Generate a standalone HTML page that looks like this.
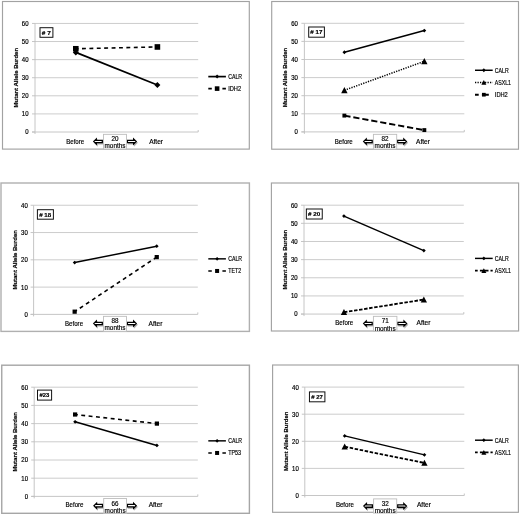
<!DOCTYPE html>
<html><head><meta charset="utf-8"><title>Mutant Allele Burden</title>
<style>
html,body{margin:0;padding:0;background:#fff;overflow:hidden;}
svg{display:block;font-family:"Liberation Sans", sans-serif;will-change:transform;}
text{fill:#000;stroke:#000;stroke-width:0.18px;}
</style></head>
<body>
<svg width="520" height="516" viewBox="0 0 520 516">
<defs><filter id="blur" x="-30%" y="-30%" width="160%" height="160%"><feGaussianBlur stdDeviation="0.7"/></filter></defs>
<rect x="0" y="0" width="520" height="516" fill="#fff"/>
<rect x="2.5" y="1.5" width="246.80" height="147.60" fill="#fff" stroke="#a2a2a2" stroke-width="1.15"/>
<line x1="35.0" y1="113.91" x2="198.2" y2="113.91" stroke="#c6c6c6" stroke-width="0.9"/>
<line x1="35.0" y1="95.81" x2="198.2" y2="95.81" stroke="#c6c6c6" stroke-width="0.9"/>
<line x1="35.0" y1="77.72" x2="198.2" y2="77.72" stroke="#c6c6c6" stroke-width="0.9"/>
<line x1="35.0" y1="59.63" x2="198.2" y2="59.63" stroke="#c6c6c6" stroke-width="0.9"/>
<line x1="35.0" y1="41.53" x2="198.2" y2="41.53" stroke="#c6c6c6" stroke-width="0.9"/>
<line x1="35.0" y1="23.44" x2="198.2" y2="23.44" stroke="#c6c6c6" stroke-width="0.9"/>
<line x1="35.0" y1="23.44" x2="35.0" y2="134.00" stroke="#c0c0c0" stroke-width="0.9"/>
<line x1="32.0" y1="132.00" x2="198.2" y2="132.00" stroke="#c0c0c0" stroke-width="0.9"/>
<line x1="198.2" y1="130.00" x2="198.2" y2="132.00" stroke="#c0c0c0" stroke-width="0.9"/>
<line x1="32.0" y1="132.00" x2="35.0" y2="132.00" stroke="#c0c0c0" stroke-width="0.9"/>
<text x="28.50" y="134.40" font-size="6.55" text-anchor="end" font-weight="normal" textLength="3.35" lengthAdjust="spacingAndGlyphs">0</text>
<line x1="32.0" y1="113.91" x2="35.0" y2="113.91" stroke="#c0c0c0" stroke-width="0.9"/>
<text x="28.50" y="116.31" font-size="6.55" text-anchor="end" font-weight="normal" textLength="6.7" lengthAdjust="spacingAndGlyphs">10</text>
<line x1="32.0" y1="95.81" x2="35.0" y2="95.81" stroke="#c0c0c0" stroke-width="0.9"/>
<text x="28.50" y="98.21" font-size="6.55" text-anchor="end" font-weight="normal" textLength="6.7" lengthAdjust="spacingAndGlyphs">20</text>
<line x1="32.0" y1="77.72" x2="35.0" y2="77.72" stroke="#c0c0c0" stroke-width="0.9"/>
<text x="28.50" y="80.12" font-size="6.55" text-anchor="end" font-weight="normal" textLength="6.7" lengthAdjust="spacingAndGlyphs">30</text>
<line x1="32.0" y1="59.63" x2="35.0" y2="59.63" stroke="#c0c0c0" stroke-width="0.9"/>
<text x="28.50" y="62.03" font-size="6.55" text-anchor="end" font-weight="normal" textLength="6.7" lengthAdjust="spacingAndGlyphs">40</text>
<line x1="32.0" y1="41.53" x2="35.0" y2="41.53" stroke="#c0c0c0" stroke-width="0.9"/>
<text x="28.50" y="43.93" font-size="6.55" text-anchor="end" font-weight="normal" textLength="6.7" lengthAdjust="spacingAndGlyphs">50</text>
<line x1="32.0" y1="23.44" x2="35.0" y2="23.44" stroke="#c0c0c0" stroke-width="0.9"/>
<text x="28.50" y="25.84" font-size="6.55" text-anchor="end" font-weight="normal" textLength="6.7" lengthAdjust="spacingAndGlyphs">60</text>
<text transform="translate(17.90,77.72) rotate(-90)" font-size="6.1" font-weight="bold" stroke="none" text-anchor="middle" textLength="59.5" lengthAdjust="spacingAndGlyphs">Mutant Allele Burden</text>
<rect x="40.0" y="27.7" width="12.90" height="9.60" fill="#fff" stroke="#111" stroke-width="1"/>
<text x="46.25" y="34.75" font-size="6.2" text-anchor="middle" font-weight="bold" textLength="9" lengthAdjust="spacingAndGlyphs"># 7</text>
<line x1="75.80" y1="48.77" x2="157.40" y2="46.96" stroke="#000" stroke-width="1.6" stroke-dasharray="3.9 3.5" stroke-dashoffset="1.2"/>
<rect x="73.00" y="45.97" width="5.60" height="5.60" fill="#000"/>
<rect x="154.60" y="44.16" width="5.60" height="5.60" fill="#000"/>
<line x1="75.80" y1="52.39" x2="157.40" y2="84.96" stroke="#000" stroke-width="1.7"/>
<path d="M72.80,52.39 L75.80,49.39 L78.80,52.39 L75.80,55.39 Z" fill="#000"/>
<path d="M154.40,84.96 L157.40,81.96 L160.40,84.96 L157.40,87.96 Z" fill="#000"/>
<line x1="208.3" y1="76.6" x2="225.9" y2="76.6" stroke="#000" stroke-width="1.7"/>
<path d="M215.10,76.60 L217.10,74.60 L219.10,76.60 L217.10,78.60 Z" fill="#000"/>
<text x="228.20" y="78.95" font-size="6.7" text-anchor="start" font-weight="normal" textLength="13.9" lengthAdjust="spacingAndGlyphs">CALR</text>
<line x1="208.3" y1="88.6" x2="225.9" y2="88.6" stroke="#000" stroke-width="1.6" stroke-dasharray="3.5 10.6 3.5 100" stroke-dashoffset="0"/>
<rect x="214.80" y="86.30" width="4.60" height="4.60" fill="#000"/>
<text x="228.20" y="90.95" font-size="6.7" text-anchor="start" font-weight="normal" textLength="12.9" lengthAdjust="spacingAndGlyphs">IDH2</text>
<text x="75.20" y="143.60" font-size="6.7" text-anchor="middle" font-weight="normal" textLength="18" lengthAdjust="spacingAndGlyphs">Before</text>
<text x="156.10" y="143.60" font-size="6.7" text-anchor="middle" font-weight="normal" textLength="13.9" lengthAdjust="spacingAndGlyphs">After</text>
<path d="M94.70,142.80 L97.20,140.35 L97.20,141.60 L103.20,141.60 L103.20,144.00 L97.20,144.00 L97.20,145.25 Z" fill="#000" stroke="#000" stroke-width="1.2" opacity="0.30" filter="url(#blur)"/><path d="M93.80,141.50 L96.30,139.05 L96.30,140.30 L102.30,140.30 L102.30,142.70 L96.30,142.70 L96.30,143.95 Z" fill="#fff" stroke="#000" stroke-width="1.3" stroke-linejoin="miter"/>
<path d="M137.05,142.80 L134.55,140.35 L134.55,141.60 L128.30,141.60 L128.30,144.00 L134.55,144.00 L134.55,145.25 Z" fill="#000" stroke="#000" stroke-width="1.2" opacity="0.30" filter="url(#blur)"/><path d="M136.15,141.50 L133.65,139.05 L133.65,140.30 L127.40,140.30 L127.40,142.70 L133.65,142.70 L133.65,143.95 Z" fill="#fff" stroke="#000" stroke-width="1.3" stroke-linejoin="miter"/>
<rect x="103.5" y="134.35" width="23.00" height="14.65" fill="#fff" stroke="#bdbdbd" stroke-width="0.9"/>
<text x="115.00" y="140.75" font-size="6.7" text-anchor="middle" font-weight="normal" textLength="7.0" lengthAdjust="spacingAndGlyphs">20</text>
<text x="115.00" y="148.05" font-size="6.7" text-anchor="middle" font-weight="normal" textLength="21" lengthAdjust="spacingAndGlyphs">months</text>
<rect x="271.7" y="1.5" width="246.80" height="147.70" fill="#fff" stroke="#a2a2a2" stroke-width="1.15"/>
<line x1="304.4" y1="113.80" x2="464.3" y2="113.80" stroke="#c6c6c6" stroke-width="0.9"/>
<line x1="304.4" y1="95.70" x2="464.3" y2="95.70" stroke="#c6c6c6" stroke-width="0.9"/>
<line x1="304.4" y1="77.60" x2="464.3" y2="77.60" stroke="#c6c6c6" stroke-width="0.9"/>
<line x1="304.4" y1="59.50" x2="464.3" y2="59.50" stroke="#c6c6c6" stroke-width="0.9"/>
<line x1="304.4" y1="41.40" x2="464.3" y2="41.40" stroke="#c6c6c6" stroke-width="0.9"/>
<line x1="304.4" y1="23.30" x2="464.3" y2="23.30" stroke="#c6c6c6" stroke-width="0.9"/>
<line x1="304.4" y1="23.30" x2="304.4" y2="133.90" stroke="#c0c0c0" stroke-width="0.9"/>
<line x1="301.4" y1="131.90" x2="464.3" y2="131.90" stroke="#c0c0c0" stroke-width="0.9"/>
<line x1="464.3" y1="129.90" x2="464.3" y2="131.90" stroke="#c0c0c0" stroke-width="0.9"/>
<line x1="301.4" y1="131.90" x2="304.4" y2="131.90" stroke="#c0c0c0" stroke-width="0.9"/>
<text x="297.90" y="134.30" font-size="6.55" text-anchor="end" font-weight="normal" textLength="3.35" lengthAdjust="spacingAndGlyphs">0</text>
<line x1="301.4" y1="113.80" x2="304.4" y2="113.80" stroke="#c0c0c0" stroke-width="0.9"/>
<text x="297.90" y="116.20" font-size="6.55" text-anchor="end" font-weight="normal" textLength="6.7" lengthAdjust="spacingAndGlyphs">10</text>
<line x1="301.4" y1="95.70" x2="304.4" y2="95.70" stroke="#c0c0c0" stroke-width="0.9"/>
<text x="297.90" y="98.10" font-size="6.55" text-anchor="end" font-weight="normal" textLength="6.7" lengthAdjust="spacingAndGlyphs">20</text>
<line x1="301.4" y1="77.60" x2="304.4" y2="77.60" stroke="#c0c0c0" stroke-width="0.9"/>
<text x="297.90" y="80.00" font-size="6.55" text-anchor="end" font-weight="normal" textLength="6.7" lengthAdjust="spacingAndGlyphs">30</text>
<line x1="301.4" y1="59.50" x2="304.4" y2="59.50" stroke="#c0c0c0" stroke-width="0.9"/>
<text x="297.90" y="61.90" font-size="6.55" text-anchor="end" font-weight="normal" textLength="6.7" lengthAdjust="spacingAndGlyphs">40</text>
<line x1="301.4" y1="41.40" x2="304.4" y2="41.40" stroke="#c0c0c0" stroke-width="0.9"/>
<text x="297.90" y="43.80" font-size="6.55" text-anchor="end" font-weight="normal" textLength="6.7" lengthAdjust="spacingAndGlyphs">50</text>
<line x1="301.4" y1="23.30" x2="304.4" y2="23.30" stroke="#c0c0c0" stroke-width="0.9"/>
<text x="297.90" y="25.70" font-size="6.55" text-anchor="end" font-weight="normal" textLength="6.7" lengthAdjust="spacingAndGlyphs">60</text>
<text transform="translate(287.30,77.60) rotate(-90)" font-size="6.1" font-weight="bold" stroke="none" text-anchor="middle" textLength="59.5" lengthAdjust="spacingAndGlyphs">Mutant Allele Burden</text>
<rect x="308.7" y="27.0" width="15.70" height="10.20" fill="#fff" stroke="#111" stroke-width="1"/>
<text x="316.35" y="34.35" font-size="6.2" text-anchor="middle" font-weight="bold" textLength="12" lengthAdjust="spacingAndGlyphs"># 17</text>
<line x1="344.38" y1="115.61" x2="424.32" y2="130.09" stroke="#000" stroke-width="1.9" stroke-dasharray="6.2 2.9" stroke-dashoffset="0"/>
<rect x="342.43" y="113.66" width="3.90" height="3.90" fill="#000"/>
<rect x="422.38" y="128.14" width="3.90" height="3.90" fill="#000"/>
<line x1="344.38" y1="90.27" x2="424.32" y2="61.31" stroke="#000" stroke-width="1.5" stroke-dasharray="1.25 1.25" stroke-dashoffset="0"/>
<path d="M341.18,93.15 L344.38,87.07 L347.57,93.15 Z" fill="#000"/>
<path d="M421.12,64.19 L424.32,58.11 L427.52,64.19 Z" fill="#000"/>
<line x1="344.38" y1="52.26" x2="424.32" y2="30.54" stroke="#000" stroke-width="1.45"/>
<path d="M342.48,52.26 L344.38,50.36 L346.27,52.26 L344.38,54.16 Z" fill="#000"/>
<path d="M422.43,30.54 L424.32,28.64 L426.22,30.54 L424.32,32.44 Z" fill="#000"/>
<line x1="475.0" y1="70.26" x2="492.7" y2="70.26" stroke="#000" stroke-width="1.45"/>
<path d="M481.95,70.26 L483.85,68.36 L485.75,70.26 L483.85,72.16 Z" fill="#000"/>
<text x="494.80" y="72.61" font-size="6.7" text-anchor="start" font-weight="normal" textLength="13.9" lengthAdjust="spacingAndGlyphs">CALR</text>
<line x1="475.0" y1="82.5" x2="492.7" y2="82.5" stroke="#000" stroke-width="1.5" stroke-dasharray="1.25 1.25" stroke-dashoffset="0"/>
<path d="M481.35,84.75 L483.85,80.00 L486.35,84.75 Z" fill="#000"/>
<text x="494.80" y="84.85" font-size="6.7" text-anchor="start" font-weight="normal" textLength="16.2" lengthAdjust="spacingAndGlyphs">ASXL1</text>
<line x1="475.0" y1="94.7" x2="492.7" y2="94.7" stroke="#000" stroke-width="1.9" stroke-dasharray="3.7 3.2 6.9 100" stroke-dashoffset="0"/>
<rect x="482.00" y="92.85" width="3.70" height="3.70" fill="#000"/>
<text x="494.80" y="97.05" font-size="6.7" text-anchor="start" font-weight="normal" textLength="13" lengthAdjust="spacingAndGlyphs">IDH2</text>
<text x="343.77" y="143.60" font-size="6.7" text-anchor="middle" font-weight="normal" textLength="18" lengthAdjust="spacingAndGlyphs">Before</text>
<text x="423.02" y="143.60" font-size="6.7" text-anchor="middle" font-weight="normal" textLength="13.9" lengthAdjust="spacingAndGlyphs">After</text>
<path d="M364.60,142.80 L367.10,140.35 L367.10,141.60 L373.10,141.60 L373.10,144.00 L367.10,144.00 L367.10,145.25 Z" fill="#000" stroke="#000" stroke-width="1.2" opacity="0.30" filter="url(#blur)"/><path d="M363.70,141.50 L366.20,139.05 L366.20,140.30 L372.20,140.30 L372.20,142.70 L366.20,142.70 L366.20,143.95 Z" fill="#fff" stroke="#000" stroke-width="1.3" stroke-linejoin="miter"/>
<path d="M407.25,142.80 L404.75,140.35 L404.75,141.60 L398.50,141.60 L398.50,144.00 L404.75,144.00 L404.75,145.25 Z" fill="#000" stroke="#000" stroke-width="1.2" opacity="0.30" filter="url(#blur)"/><path d="M406.35,141.50 L403.85,139.05 L403.85,140.30 L397.60,140.30 L397.60,142.70 L403.85,142.70 L403.85,143.95 Z" fill="#fff" stroke="#000" stroke-width="1.3" stroke-linejoin="miter"/>
<rect x="373.4" y="134.35" width="23.30" height="14.75" fill="#fff" stroke="#bdbdbd" stroke-width="0.9"/>
<text x="385.05" y="141.05" font-size="6.7" text-anchor="middle" font-weight="normal" textLength="7.0" lengthAdjust="spacingAndGlyphs">82</text>
<text x="385.05" y="148.35" font-size="6.7" text-anchor="middle" font-weight="normal" textLength="21" lengthAdjust="spacingAndGlyphs">months</text>
<rect x="1.0" y="183.0" width="248.40" height="148.40" fill="#fff" stroke="#b0b0b0" stroke-width="1.4"/>
<line x1="33.6" y1="287.11" x2="197.8" y2="287.11" stroke="#c6c6c6" stroke-width="0.9"/>
<line x1="33.6" y1="259.82" x2="197.8" y2="259.82" stroke="#c6c6c6" stroke-width="0.9"/>
<line x1="33.6" y1="232.54" x2="197.8" y2="232.54" stroke="#c6c6c6" stroke-width="0.9"/>
<line x1="33.6" y1="205.25" x2="197.8" y2="205.25" stroke="#c6c6c6" stroke-width="0.9"/>
<line x1="33.6" y1="205.25" x2="33.6" y2="316.40" stroke="#c0c0c0" stroke-width="0.9"/>
<line x1="30.6" y1="314.40" x2="197.8" y2="314.40" stroke="#c0c0c0" stroke-width="0.9"/>
<line x1="197.8" y1="312.40" x2="197.8" y2="314.40" stroke="#c0c0c0" stroke-width="0.9"/>
<line x1="30.6" y1="314.40" x2="33.6" y2="314.40" stroke="#c0c0c0" stroke-width="0.9"/>
<text x="27.80" y="316.80" font-size="6.55" text-anchor="end" font-weight="normal" textLength="3.35" lengthAdjust="spacingAndGlyphs">0</text>
<line x1="30.6" y1="287.11" x2="33.6" y2="287.11" stroke="#c0c0c0" stroke-width="0.9"/>
<text x="27.80" y="289.51" font-size="6.55" text-anchor="end" font-weight="normal" textLength="6.7" lengthAdjust="spacingAndGlyphs">10</text>
<line x1="30.6" y1="259.82" x2="33.6" y2="259.82" stroke="#c0c0c0" stroke-width="0.9"/>
<text x="27.80" y="262.22" font-size="6.55" text-anchor="end" font-weight="normal" textLength="6.7" lengthAdjust="spacingAndGlyphs">20</text>
<line x1="30.6" y1="232.54" x2="33.6" y2="232.54" stroke="#c0c0c0" stroke-width="0.9"/>
<text x="27.80" y="234.94" font-size="6.55" text-anchor="end" font-weight="normal" textLength="6.7" lengthAdjust="spacingAndGlyphs">30</text>
<line x1="30.6" y1="205.25" x2="33.6" y2="205.25" stroke="#c0c0c0" stroke-width="0.9"/>
<text x="27.80" y="207.65" font-size="6.55" text-anchor="end" font-weight="normal" textLength="6.7" lengthAdjust="spacingAndGlyphs">40</text>
<text transform="translate(16.50,259.82) rotate(-90)" font-size="6.1" font-weight="bold" stroke="none" text-anchor="middle" textLength="59.5" lengthAdjust="spacingAndGlyphs">Mutant Allele Burden</text>
<rect x="37.4" y="209.7" width="16.00" height="9.50" fill="#fff" stroke="#111" stroke-width="1"/>
<text x="45.20" y="216.70" font-size="6.2" text-anchor="middle" font-weight="bold" textLength="12" lengthAdjust="spacingAndGlyphs"># 18</text>
<line x1="74.65" y1="311.67" x2="156.75" y2="257.10" stroke="#000" stroke-width="1.6" stroke-dasharray="3.9 3.5" stroke-dashoffset="1.2"/>
<rect x="72.55" y="309.57" width="4.20" height="4.20" fill="#000"/>
<rect x="154.65" y="255.00" width="4.20" height="4.20" fill="#000"/>
<line x1="74.65" y1="262.55" x2="156.75" y2="246.18" stroke="#000" stroke-width="1.45"/>
<path d="M72.75,262.55 L74.65,260.65 L76.55,262.55 L74.65,264.45 Z" fill="#000"/>
<path d="M154.85,246.18 L156.75,244.28 L158.65,246.18 L156.75,248.08 Z" fill="#000"/>
<line x1="208.3" y1="258.85" x2="225.9" y2="258.85" stroke="#000" stroke-width="1.45"/>
<path d="M215.30,258.85 L217.10,257.05 L218.90,258.85 L217.10,260.65 Z" fill="#000"/>
<text x="228.20" y="261.20" font-size="6.7" text-anchor="start" font-weight="normal" textLength="13.9" lengthAdjust="spacingAndGlyphs">CALR</text>
<line x1="208.3" y1="270.96" x2="225.9" y2="270.96" stroke="#000" stroke-width="1.6" stroke-dasharray="3.5 10.6 3.5 100" stroke-dashoffset="0"/>
<rect x="215.10" y="268.96" width="4.00" height="4.00" fill="#000"/>
<text x="228.20" y="273.31" font-size="6.7" text-anchor="start" font-weight="normal" textLength="12.9" lengthAdjust="spacingAndGlyphs">TET2</text>
<text x="74.05" y="325.60" font-size="6.7" text-anchor="middle" font-weight="normal" textLength="18" lengthAdjust="spacingAndGlyphs">Before</text>
<text x="155.45" y="325.60" font-size="6.7" text-anchor="middle" font-weight="normal" textLength="13.9" lengthAdjust="spacingAndGlyphs">After</text>
<path d="M94.70,324.80 L97.20,322.35 L97.20,323.60 L103.20,323.60 L103.20,326.00 L97.20,326.00 L97.20,327.25 Z" fill="#000" stroke="#000" stroke-width="1.2" opacity="0.30" filter="url(#blur)"/><path d="M93.80,323.50 L96.30,321.05 L96.30,322.30 L102.30,322.30 L102.30,324.70 L96.30,324.70 L96.30,325.95 Z" fill="#fff" stroke="#000" stroke-width="1.3" stroke-linejoin="miter"/>
<path d="M137.05,324.80 L134.55,322.35 L134.55,323.60 L128.30,323.60 L128.30,326.00 L134.55,326.00 L134.55,327.25 Z" fill="#000" stroke="#000" stroke-width="1.2" opacity="0.30" filter="url(#blur)"/><path d="M136.15,323.50 L133.65,321.05 L133.65,322.30 L127.40,322.30 L127.40,324.70 L133.65,324.70 L133.65,325.95 Z" fill="#fff" stroke="#000" stroke-width="1.3" stroke-linejoin="miter"/>
<rect x="103.5" y="316.35" width="23.00" height="14.95" fill="#fff" stroke="#bdbdbd" stroke-width="0.9"/>
<text x="115.00" y="322.95" font-size="6.7" text-anchor="middle" font-weight="normal" textLength="7.0" lengthAdjust="spacingAndGlyphs">88</text>
<text x="115.00" y="330.25" font-size="6.7" text-anchor="middle" font-weight="normal" textLength="21" lengthAdjust="spacingAndGlyphs">months</text>
<rect x="271.4" y="183.0" width="247.20" height="148.00" fill="#fff" stroke="#a2a2a2" stroke-width="1.15"/>
<line x1="304.0" y1="295.93" x2="463.8" y2="295.93" stroke="#c6c6c6" stroke-width="0.9"/>
<line x1="304.0" y1="277.78" x2="463.8" y2="277.78" stroke="#c6c6c6" stroke-width="0.9"/>
<line x1="304.0" y1="259.63" x2="463.8" y2="259.63" stroke="#c6c6c6" stroke-width="0.9"/>
<line x1="304.0" y1="241.49" x2="463.8" y2="241.49" stroke="#c6c6c6" stroke-width="0.9"/>
<line x1="304.0" y1="223.34" x2="463.8" y2="223.34" stroke="#c6c6c6" stroke-width="0.9"/>
<line x1="304.0" y1="205.20" x2="463.8" y2="205.20" stroke="#c6c6c6" stroke-width="0.9"/>
<line x1="304.0" y1="205.20" x2="304.0" y2="316.07" stroke="#c0c0c0" stroke-width="0.9"/>
<line x1="301.0" y1="314.07" x2="463.8" y2="314.07" stroke="#c0c0c0" stroke-width="0.9"/>
<line x1="463.8" y1="312.07" x2="463.8" y2="314.07" stroke="#c0c0c0" stroke-width="0.9"/>
<line x1="301.0" y1="314.07" x2="304.0" y2="314.07" stroke="#c0c0c0" stroke-width="0.9"/>
<text x="297.70" y="316.47" font-size="6.55" text-anchor="end" font-weight="normal" textLength="3.35" lengthAdjust="spacingAndGlyphs">0</text>
<line x1="301.0" y1="295.93" x2="304.0" y2="295.93" stroke="#c0c0c0" stroke-width="0.9"/>
<text x="297.70" y="298.32" font-size="6.55" text-anchor="end" font-weight="normal" textLength="6.7" lengthAdjust="spacingAndGlyphs">10</text>
<line x1="301.0" y1="277.78" x2="304.0" y2="277.78" stroke="#c0c0c0" stroke-width="0.9"/>
<text x="297.70" y="280.18" font-size="6.55" text-anchor="end" font-weight="normal" textLength="6.7" lengthAdjust="spacingAndGlyphs">20</text>
<line x1="301.0" y1="259.63" x2="304.0" y2="259.63" stroke="#c0c0c0" stroke-width="0.9"/>
<text x="297.70" y="262.03" font-size="6.55" text-anchor="end" font-weight="normal" textLength="6.7" lengthAdjust="spacingAndGlyphs">30</text>
<line x1="301.0" y1="241.49" x2="304.0" y2="241.49" stroke="#c0c0c0" stroke-width="0.9"/>
<text x="297.70" y="243.89" font-size="6.55" text-anchor="end" font-weight="normal" textLength="6.7" lengthAdjust="spacingAndGlyphs">40</text>
<line x1="301.0" y1="223.34" x2="304.0" y2="223.34" stroke="#c0c0c0" stroke-width="0.9"/>
<text x="297.70" y="225.75" font-size="6.55" text-anchor="end" font-weight="normal" textLength="6.7" lengthAdjust="spacingAndGlyphs">50</text>
<line x1="301.0" y1="205.20" x2="304.0" y2="205.20" stroke="#c0c0c0" stroke-width="0.9"/>
<text x="297.70" y="207.60" font-size="6.55" text-anchor="end" font-weight="normal" textLength="6.7" lengthAdjust="spacingAndGlyphs">60</text>
<text transform="translate(286.90,259.63) rotate(-90)" font-size="6.1" font-weight="bold" stroke="none" text-anchor="middle" textLength="59.5" lengthAdjust="spacingAndGlyphs">Mutant Allele Burden</text>
<rect x="306.35" y="209.0" width="15.90" height="10.00" fill="#fff" stroke="#111" stroke-width="1"/>
<text x="314.10" y="216.25" font-size="6.2" text-anchor="middle" font-weight="bold" textLength="12.2" lengthAdjust="spacingAndGlyphs"># 20</text>
<line x1="343.95" y1="312.26" x2="423.85" y2="299.55" stroke="#000" stroke-width="1.8" stroke-dasharray="3.5 1.6" stroke-dashoffset="0"/>
<path d="M340.80,315.09 L343.95,309.11 L347.10,315.09 Z" fill="#000"/>
<path d="M420.70,302.39 L423.85,296.40 L427.00,302.39 Z" fill="#000"/>
<line x1="343.95" y1="216.09" x2="423.85" y2="250.56" stroke="#000" stroke-width="1.45"/>
<path d="M342.05,216.09 L343.95,214.19 L345.85,216.09 L343.95,217.99 Z" fill="#000"/>
<path d="M421.95,250.56 L423.85,248.66 L425.75,250.56 L423.85,252.46 Z" fill="#000"/>
<line x1="475.0" y1="258.4" x2="492.7" y2="258.4" stroke="#000" stroke-width="1.45"/>
<path d="M481.95,258.40 L483.85,256.50 L485.75,258.40 L483.85,260.30 Z" fill="#000"/>
<text x="494.80" y="260.75" font-size="6.7" text-anchor="start" font-weight="normal" textLength="13.9" lengthAdjust="spacingAndGlyphs">CALR</text>
<line x1="475.0" y1="270.7" x2="492.7" y2="270.7" stroke="#000" stroke-width="1.7" stroke-dasharray="2.7 2.2 8.6 2 3" stroke-dashoffset="0"/>
<path d="M481.35,272.95 L483.85,268.20 L486.35,272.95 Z" fill="#000"/>
<text x="494.80" y="273.05" font-size="6.7" text-anchor="start" font-weight="normal" textLength="16.2" lengthAdjust="spacingAndGlyphs">ASXL1</text>
<text x="344.25" y="324.90" font-size="6.7" text-anchor="middle" font-weight="normal" textLength="18" lengthAdjust="spacingAndGlyphs">Before</text>
<text x="423.45" y="324.90" font-size="6.7" text-anchor="middle" font-weight="normal" textLength="13.9" lengthAdjust="spacingAndGlyphs">After</text>
<path d="M364.60,324.80 L367.10,322.35 L367.10,323.60 L373.10,323.60 L373.10,326.00 L367.10,326.00 L367.10,327.25 Z" fill="#000" stroke="#000" stroke-width="1.2" opacity="0.30" filter="url(#blur)"/><path d="M363.70,323.50 L366.20,321.05 L366.20,322.30 L372.20,322.30 L372.20,324.70 L366.20,324.70 L366.20,325.95 Z" fill="#fff" stroke="#000" stroke-width="1.3" stroke-linejoin="miter"/>
<path d="M407.45,324.80 L404.95,322.35 L404.95,323.60 L398.70,323.60 L398.70,326.00 L404.95,326.00 L404.95,327.25 Z" fill="#000" stroke="#000" stroke-width="1.2" opacity="0.30" filter="url(#blur)"/><path d="M406.55,323.50 L404.05,321.05 L404.05,322.30 L397.80,322.30 L397.80,324.70 L404.05,324.70 L404.05,325.95 Z" fill="#fff" stroke="#000" stroke-width="1.3" stroke-linejoin="miter"/>
<rect x="373.4" y="316.35" width="23.50" height="14.65" fill="#fff" stroke="#bdbdbd" stroke-width="0.9"/>
<text x="385.15" y="323.45" font-size="6.7" text-anchor="middle" font-weight="normal" textLength="7.0" lengthAdjust="spacingAndGlyphs">71</text>
<text x="385.15" y="330.75" font-size="6.7" text-anchor="middle" font-weight="normal" textLength="21" lengthAdjust="spacingAndGlyphs">months</text>
<rect x="1.75" y="365.2" width="247.65" height="148.10" fill="#fff" stroke="#a6a6a6" stroke-width="1.4"/>
<line x1="34.2" y1="478.20" x2="197.8" y2="478.20" stroke="#c6c6c6" stroke-width="0.9"/>
<line x1="34.2" y1="460.00" x2="197.8" y2="460.00" stroke="#c6c6c6" stroke-width="0.9"/>
<line x1="34.2" y1="441.80" x2="197.8" y2="441.80" stroke="#c6c6c6" stroke-width="0.9"/>
<line x1="34.2" y1="423.60" x2="197.8" y2="423.60" stroke="#c6c6c6" stroke-width="0.9"/>
<line x1="34.2" y1="405.40" x2="197.8" y2="405.40" stroke="#c6c6c6" stroke-width="0.9"/>
<line x1="34.2" y1="387.20" x2="197.8" y2="387.20" stroke="#c6c6c6" stroke-width="0.9"/>
<line x1="34.2" y1="387.20" x2="34.2" y2="498.40" stroke="#c0c0c0" stroke-width="0.9"/>
<line x1="31.200000000000003" y1="496.40" x2="197.8" y2="496.40" stroke="#c0c0c0" stroke-width="0.9"/>
<line x1="197.8" y1="494.40" x2="197.8" y2="496.40" stroke="#c0c0c0" stroke-width="0.9"/>
<line x1="31.200000000000003" y1="496.40" x2="34.2" y2="496.40" stroke="#c0c0c0" stroke-width="0.9"/>
<text x="28.00" y="498.80" font-size="6.55" text-anchor="end" font-weight="normal" textLength="3.35" lengthAdjust="spacingAndGlyphs">0</text>
<line x1="31.200000000000003" y1="478.20" x2="34.2" y2="478.20" stroke="#c0c0c0" stroke-width="0.9"/>
<text x="28.00" y="480.60" font-size="6.55" text-anchor="end" font-weight="normal" textLength="6.7" lengthAdjust="spacingAndGlyphs">10</text>
<line x1="31.200000000000003" y1="460.00" x2="34.2" y2="460.00" stroke="#c0c0c0" stroke-width="0.9"/>
<text x="28.00" y="462.40" font-size="6.55" text-anchor="end" font-weight="normal" textLength="6.7" lengthAdjust="spacingAndGlyphs">20</text>
<line x1="31.200000000000003" y1="441.80" x2="34.2" y2="441.80" stroke="#c0c0c0" stroke-width="0.9"/>
<text x="28.00" y="444.20" font-size="6.55" text-anchor="end" font-weight="normal" textLength="6.7" lengthAdjust="spacingAndGlyphs">30</text>
<line x1="31.200000000000003" y1="423.60" x2="34.2" y2="423.60" stroke="#c0c0c0" stroke-width="0.9"/>
<text x="28.00" y="426.00" font-size="6.55" text-anchor="end" font-weight="normal" textLength="6.7" lengthAdjust="spacingAndGlyphs">40</text>
<line x1="31.200000000000003" y1="405.40" x2="34.2" y2="405.40" stroke="#c0c0c0" stroke-width="0.9"/>
<text x="28.00" y="407.80" font-size="6.55" text-anchor="end" font-weight="normal" textLength="6.7" lengthAdjust="spacingAndGlyphs">50</text>
<line x1="31.200000000000003" y1="387.20" x2="34.2" y2="387.20" stroke="#c0c0c0" stroke-width="0.9"/>
<text x="28.00" y="389.60" font-size="6.55" text-anchor="end" font-weight="normal" textLength="6.7" lengthAdjust="spacingAndGlyphs">60</text>
<text transform="translate(17.10,441.80) rotate(-90)" font-size="6.1" font-weight="bold" stroke="none" text-anchor="middle" textLength="59.5" lengthAdjust="spacingAndGlyphs">Mutant Allele Burden</text>
<rect x="37.5" y="390.1" width="14.10" height="10.00" fill="#fff" stroke="#111" stroke-width="1"/>
<text x="44.35" y="397.35" font-size="6.2" text-anchor="middle" font-weight="bold" textLength="9.8" lengthAdjust="spacingAndGlyphs">#23</text>
<line x1="75.10" y1="414.50" x2="156.90" y2="423.60" stroke="#000" stroke-width="1.6" stroke-dasharray="3.9 3.5" stroke-dashoffset="1.2"/>
<rect x="73.00" y="412.40" width="4.20" height="4.20" fill="#000"/>
<rect x="154.80" y="421.50" width="4.20" height="4.20" fill="#000"/>
<line x1="75.10" y1="421.78" x2="156.90" y2="445.44" stroke="#000" stroke-width="1.45"/>
<path d="M73.20,421.78 L75.10,419.88 L77.00,421.78 L75.10,423.68 Z" fill="#000"/>
<path d="M155.00,445.44 L156.90,443.54 L158.80,445.44 L156.90,447.34 Z" fill="#000"/>
<line x1="208.3" y1="440.85" x2="225.9" y2="440.85" stroke="#000" stroke-width="1.45"/>
<path d="M215.30,440.85 L217.10,439.05 L218.90,440.85 L217.10,442.65 Z" fill="#000"/>
<text x="228.20" y="443.20" font-size="6.7" text-anchor="start" font-weight="normal" textLength="13.9" lengthAdjust="spacingAndGlyphs">CALR</text>
<line x1="208.3" y1="452.96" x2="225.9" y2="452.96" stroke="#000" stroke-width="1.6" stroke-dasharray="3.5 10.6 3.5 100" stroke-dashoffset="0"/>
<rect x="215.10" y="450.96" width="4.00" height="4.00" fill="#000"/>
<text x="228.20" y="455.31" font-size="6.7" text-anchor="start" font-weight="normal" textLength="12.9" lengthAdjust="spacingAndGlyphs">TP53</text>
<text x="74.50" y="507.20" font-size="6.7" text-anchor="middle" font-weight="normal" textLength="18" lengthAdjust="spacingAndGlyphs">Before</text>
<text x="155.60" y="507.20" font-size="6.7" text-anchor="middle" font-weight="normal" textLength="13.9" lengthAdjust="spacingAndGlyphs">After</text>
<path d="M94.90,506.95 L97.40,504.50 L97.40,505.75 L103.40,505.75 L103.40,508.15 L97.40,508.15 L97.40,509.40 Z" fill="#000" stroke="#000" stroke-width="1.2" opacity="0.30" filter="url(#blur)"/><path d="M94.00,505.65 L96.50,503.20 L96.50,504.45 L102.50,504.45 L102.50,506.85 L96.50,506.85 L96.50,508.10 Z" fill="#fff" stroke="#000" stroke-width="1.3" stroke-linejoin="miter"/>
<path d="M137.05,506.95 L134.55,504.50 L134.55,505.75 L128.30,505.75 L128.30,508.15 L134.55,508.15 L134.55,509.40 Z" fill="#000" stroke="#000" stroke-width="1.2" opacity="0.30" filter="url(#blur)"/><path d="M136.15,505.65 L133.65,503.20 L133.65,504.45 L127.40,504.45 L127.40,506.85 L133.65,506.85 L133.65,508.10 Z" fill="#fff" stroke="#000" stroke-width="1.3" stroke-linejoin="miter"/>
<rect x="103.7" y="498.5" width="22.80" height="14.90" fill="#fff" stroke="#bdbdbd" stroke-width="0.9"/>
<text x="115.10" y="505.60" font-size="6.7" text-anchor="middle" font-weight="normal" textLength="7.0" lengthAdjust="spacingAndGlyphs">66</text>
<text x="115.10" y="512.90" font-size="6.7" text-anchor="middle" font-weight="normal" textLength="21" lengthAdjust="spacingAndGlyphs">months</text>
<rect x="272.6" y="365.0" width="245.80" height="147.30" fill="#fff" stroke="#a2a2a2" stroke-width="1.15"/>
<line x1="304.8" y1="468.40" x2="464.3" y2="468.40" stroke="#c6c6c6" stroke-width="0.9"/>
<line x1="304.8" y1="441.30" x2="464.3" y2="441.30" stroke="#c6c6c6" stroke-width="0.9"/>
<line x1="304.8" y1="414.20" x2="464.3" y2="414.20" stroke="#c6c6c6" stroke-width="0.9"/>
<line x1="304.8" y1="387.10" x2="464.3" y2="387.10" stroke="#c6c6c6" stroke-width="0.9"/>
<line x1="304.8" y1="387.10" x2="304.8" y2="497.50" stroke="#c0c0c0" stroke-width="0.9"/>
<line x1="301.8" y1="495.50" x2="464.3" y2="495.50" stroke="#c0c0c0" stroke-width="0.9"/>
<line x1="464.3" y1="493.50" x2="464.3" y2="495.50" stroke="#c0c0c0" stroke-width="0.9"/>
<line x1="301.8" y1="495.50" x2="304.8" y2="495.50" stroke="#c0c0c0" stroke-width="0.9"/>
<text x="298.80" y="497.90" font-size="6.55" text-anchor="end" font-weight="normal" textLength="3.35" lengthAdjust="spacingAndGlyphs">0</text>
<line x1="301.8" y1="468.40" x2="304.8" y2="468.40" stroke="#c0c0c0" stroke-width="0.9"/>
<text x="298.80" y="470.80" font-size="6.55" text-anchor="end" font-weight="normal" textLength="6.7" lengthAdjust="spacingAndGlyphs">10</text>
<line x1="301.8" y1="441.30" x2="304.8" y2="441.30" stroke="#c0c0c0" stroke-width="0.9"/>
<text x="298.80" y="443.70" font-size="6.55" text-anchor="end" font-weight="normal" textLength="6.7" lengthAdjust="spacingAndGlyphs">20</text>
<line x1="301.8" y1="414.20" x2="304.8" y2="414.20" stroke="#c0c0c0" stroke-width="0.9"/>
<text x="298.80" y="416.60" font-size="6.55" text-anchor="end" font-weight="normal" textLength="6.7" lengthAdjust="spacingAndGlyphs">30</text>
<line x1="301.8" y1="387.10" x2="304.8" y2="387.10" stroke="#c0c0c0" stroke-width="0.9"/>
<text x="298.80" y="389.50" font-size="6.55" text-anchor="end" font-weight="normal" textLength="6.7" lengthAdjust="spacingAndGlyphs">40</text>
<text transform="translate(287.70,441.30) rotate(-90)" font-size="6.1" font-weight="bold" stroke="none" text-anchor="middle" textLength="59.5" lengthAdjust="spacingAndGlyphs">Mutant Allele Burden</text>
<rect x="309.45" y="391.9" width="15.45" height="9.90" fill="#fff" stroke="#111" stroke-width="1"/>
<text x="316.97" y="399.10" font-size="6.2" text-anchor="middle" font-weight="bold" textLength="11.6" lengthAdjust="spacingAndGlyphs"># 27</text>
<line x1="344.68" y1="446.72" x2="424.43" y2="462.98" stroke="#000" stroke-width="1.8" stroke-dasharray="3.5 1.6" stroke-dashoffset="0"/>
<path d="M341.53,449.56 L344.68,443.57 L347.82,449.56 Z" fill="#000"/>
<path d="M421.28,465.81 L424.43,459.83 L427.57,465.81 Z" fill="#000"/>
<line x1="344.68" y1="435.88" x2="424.43" y2="454.85" stroke="#000" stroke-width="1.45"/>
<path d="M342.78,435.88 L344.68,433.98 L346.57,435.88 L344.68,437.78 Z" fill="#000"/>
<path d="M422.53,454.85 L424.43,452.95 L426.32,454.85 L424.43,456.75 Z" fill="#000"/>
<line x1="475.0" y1="440.2" x2="492.7" y2="440.2" stroke="#000" stroke-width="1.45"/>
<path d="M481.95,440.20 L483.85,438.30 L485.75,440.20 L483.85,442.10 Z" fill="#000"/>
<text x="494.80" y="442.55" font-size="6.7" text-anchor="start" font-weight="normal" textLength="13.9" lengthAdjust="spacingAndGlyphs">CALR</text>
<line x1="475.0" y1="452.4" x2="492.7" y2="452.4" stroke="#000" stroke-width="1.7" stroke-dasharray="2.7 2.2 8.6 2 3" stroke-dashoffset="0"/>
<path d="M481.35,454.65 L483.85,449.90 L486.35,454.65 Z" fill="#000"/>
<text x="494.80" y="454.75" font-size="6.7" text-anchor="start" font-weight="normal" textLength="16.2" lengthAdjust="spacingAndGlyphs">ASXL1</text>
<text x="344.88" y="507.00" font-size="6.7" text-anchor="middle" font-weight="normal" textLength="18" lengthAdjust="spacingAndGlyphs">Before</text>
<text x="423.93" y="507.00" font-size="6.7" text-anchor="middle" font-weight="normal" textLength="13.9" lengthAdjust="spacingAndGlyphs">After</text>
<path d="M364.80,507.35 L367.30,504.90 L367.30,506.15 L373.30,506.15 L373.30,508.55 L367.30,508.55 L367.30,509.80 Z" fill="#000" stroke="#000" stroke-width="1.2" opacity="0.30" filter="url(#blur)"/><path d="M363.90,506.05 L366.40,503.60 L366.40,504.85 L372.40,504.85 L372.40,507.25 L366.40,507.25 L366.40,508.50 Z" fill="#fff" stroke="#000" stroke-width="1.3" stroke-linejoin="miter"/>
<path d="M407.25,507.35 L404.75,504.90 L404.75,506.15 L398.50,506.15 L398.50,508.55 L404.75,508.55 L404.75,509.80 Z" fill="#000" stroke="#000" stroke-width="1.2" opacity="0.30" filter="url(#blur)"/><path d="M406.35,506.05 L403.85,503.60 L403.85,504.85 L397.60,504.85 L397.60,507.25 L403.85,507.25 L403.85,508.50 Z" fill="#fff" stroke="#000" stroke-width="1.3" stroke-linejoin="miter"/>
<rect x="373.6" y="498.9" width="23.10" height="14.20" fill="#fff" stroke="#bdbdbd" stroke-width="0.9"/>
<text x="385.15" y="505.90" font-size="6.7" text-anchor="middle" font-weight="normal" textLength="7.0" lengthAdjust="spacingAndGlyphs">32</text>
<text x="385.15" y="513.20" font-size="6.7" text-anchor="middle" font-weight="normal" textLength="21" lengthAdjust="spacingAndGlyphs">months</text>
</svg>
</body></html>
